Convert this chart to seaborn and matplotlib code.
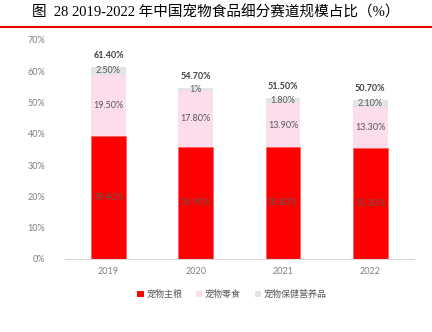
import matplotlib
matplotlib.use("Agg")
import matplotlib.pyplot as plt
import seaborn as sns
import numpy as np
import pandas as pd
from matplotlib.lines import Line2D
from matplotlib.patches import Patch

years = ["2019", "2020", "2021", "2022"]
staple = [39.4, 35.9, 35.8, 35.3]
snack = [19.5, 17.8, 13.9, 13.3]
health = [2.5, 1.0, 1.8, 2.1]
totals = [61.4, 54.7, 51.5, 50.7]
staple_labels = ["39.40%", "35.90%", "35.80%", "35.30%"]
snack_labels = ["19.50%", "17.80%", "13.90%", "13.30%"]
health_labels = ["2.50%", "1%", "1.80%", "2.10%"]
total_labels = ["61.40%", "54.70%", "51.50%", "50.70%"]
series_names = ["宠物主粮", "宠物零食", "宠物保健营养品"]
colors = ["#FF0000", "#FCDDEC", "#E4E4E4"]
yticks = [0, 10, 20, 30, 40, 50, 60, 70]

sns.set_theme(style="white")
plt.rcParams["font.family"] = ["Lato", "Noto Sans CJK SC", "DejaVu Sans"]

fig = plt.figure(figsize=(4.32, 3.32), dpi=100)
ax = fig.add_axes([0.150, 0.220, 0.808, 0.660])

df = pd.DataFrame({"year": years, "staple": staple, "snack": snack, "health": health})
bottom2 = np.array(staple)
bottom3 = np.array(staple) + np.array(snack)

sns.barplot(data=df, x="year", y="staple", order=years, color=colors[0], width=0.4,
            edgecolor="#FF6060", linewidth=0.6, ax=ax, saturation=1)
sns.barplot(data=df, x="year", y="snack", order=years, color=colors[1], width=0.4,
            bottom=bottom2, linewidth=0, ax=ax, saturation=1)
sns.barplot(data=df, x="year", y="health", order=years, color=colors[2], width=0.4,
            bottom=bottom3, linewidth=0, ax=ax, saturation=1)

lab_color = "#595959"
for cont, labs in zip(ax.containers, [staple_labels, snack_labels, health_labels]):
    ax.bar_label(cont, labels=labs, label_type="center", fontsize=6.5, color=lab_color)

for i, (t, lab) in enumerate(zip(totals, total_labels)):
    ax.annotate(lab, (i, t), xytext=(0, 5), textcoords="offset points", ha="center",
                va="bottom", fontsize=6.5, fontweight="bold", color="#404040")

ax.set_ylim(0, 70)
ax.set_yticks(yticks)
ax.set_yticklabels([f"{v}%" for v in yticks])
ax.set_xlim(-0.5, 3.5)
ax.set_xlabel("")
ax.set_ylabel("")
for s in ["top", "right", "left"]:
    ax.spines[s].set_visible(False)
ax.spines["bottom"].set_color("#D9D9D9")
ax.spines["bottom"].set_linewidth(0.8)
ax.tick_params(axis="both", length=0, labelsize=6.5, colors="#7F7F7F", pad=6)
ax.tick_params(axis="y", pad=14)

handles = [Patch(facecolor=c, edgecolor="none") for c in colors]
leg = fig.legend(handles, series_names, loc="center", bbox_to_anchor=(0.537, 0.113),
                 ncol=3, frameon=False, fontsize=6.5, handlelength=0.7, handleheight=0.7,
                 handletextpad=0.3, columnspacing=1.5)
for t in leg.get_texts():
    t.set_color("#595959")

fig.text(0.5, 0.962, "图  28 2019-2022 年中国宠物食品细分赛道规模占比（%）", ha="center", va="center",
         fontsize=10.5, color="#000000", family=["Liberation Serif", "Noto Sans CJK SC"])
fig.add_artist(Line2D([0, 1], [0.918, 0.918], color="#E00000", linewidth=1.5,
                      transform=fig.transFigure))

fig.savefig("out.png", dpi=100)
